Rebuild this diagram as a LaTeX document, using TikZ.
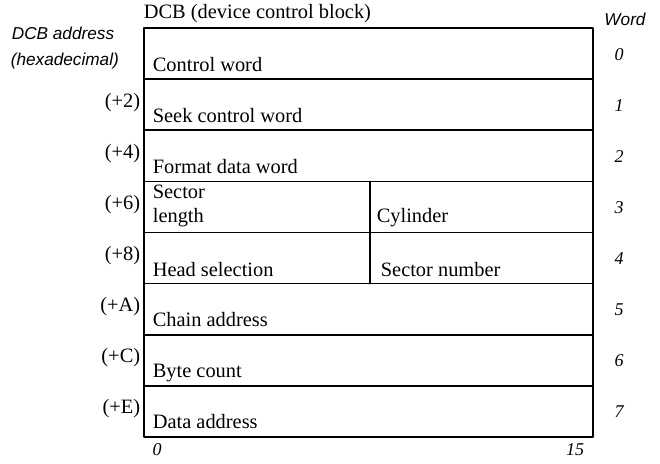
\documentclass[tikz,border=0pt]{standalone}
\usepackage{fontspec}
\setmainfont{Liberation Serif}
\newfontfamily\notefont{Liberation Sans}
\tikzset{
    dcbpic/.style={
        x=0.5pt, y=-0.5pt,
        line width=0.85pt,
        line cap=round, line join=round,
    },
    fieldlabel/.style={anchor=base west,inner sep=0pt,font=\fontsize{10.2}{12}\selectfont},
    addrlabel/.style={anchor=base east,inner sep=0pt,font=\fontsize{10.2}{12}\selectfont},
    notelabel/.style={anchor=base,inner sep=0pt,font=\notefont\itshape\fontsize{8.6}{10}\selectfont},
    numlabel/.style={anchor=base,inner sep=0pt,font=\itshape\fontsize{9}{10}\selectfont},
}
% row boundaries: top 28, height 51.125 px
\newcommand{\rowtop}[1]{28+51.125*#1}

\begin{document}
\begin{tikzpicture}
    [dcbpic]
    \useasboundingbox (0,0) rectangle (660,463);
    % the block
    \draw (144,28) rectangle (593,437);
    \foreach \i in {1,...,7}
        \draw (144,{\rowtop{\i}}) -- (593,{\rowtop{\i}});
    \draw (370,{\rowtop{3}}) -- (370,{\rowtop{5}});
    % headings
    \node[fieldlabel] (title) at (143,18) {DCB (device control block)};
    \node[notelabel,anchor=base west] (addrhead) at (11,39) {DCB address};
    \node[notelabel,anchor=base west] (hexhead) at (10,65) {(hexadecimal)};
    \node[notelabel] (wordhead) at (625,25) {Word};
    % fields
    \foreach \i/\txt in {0/Control word,1/Seek control word,2/Format data word,
                         5/Chain address,6/Byte count,7/Data address}
        \node[fieldlabel] (field\i) at (152,{\rowtop{\i}+43}) {\txt};
    \node[fieldlabel] (sector) at (152,198) {Sector};
    \node[fieldlabel] (length) at (152,222) {length};
    \node[fieldlabel] (cylinder) at (376,222) {Cylinder};
    \node[fieldlabel] (head) at (152,276) {Head selection};
    \node[fieldlabel] (secnum) at (380,276) {Sector number};
    % addresses and word numbers
    \foreach \i/\a in {1/2,2/4,3/6,4/8,5/A,6/C,7/E}
        \node[addrlabel] (addr\a) at (141,{\rowtop{\i}+28}) {(+\a)};
    \foreach \i in {0,...,7}
        \node[numlabel] (word\i) at (619,{\rowtop{\i}+32}) {\i};
    \node[numlabel] (bit0) at (157,455) {0};
    \node[numlabel] (bit15) at (575,455) {15};
\end{tikzpicture}
\end{document}
